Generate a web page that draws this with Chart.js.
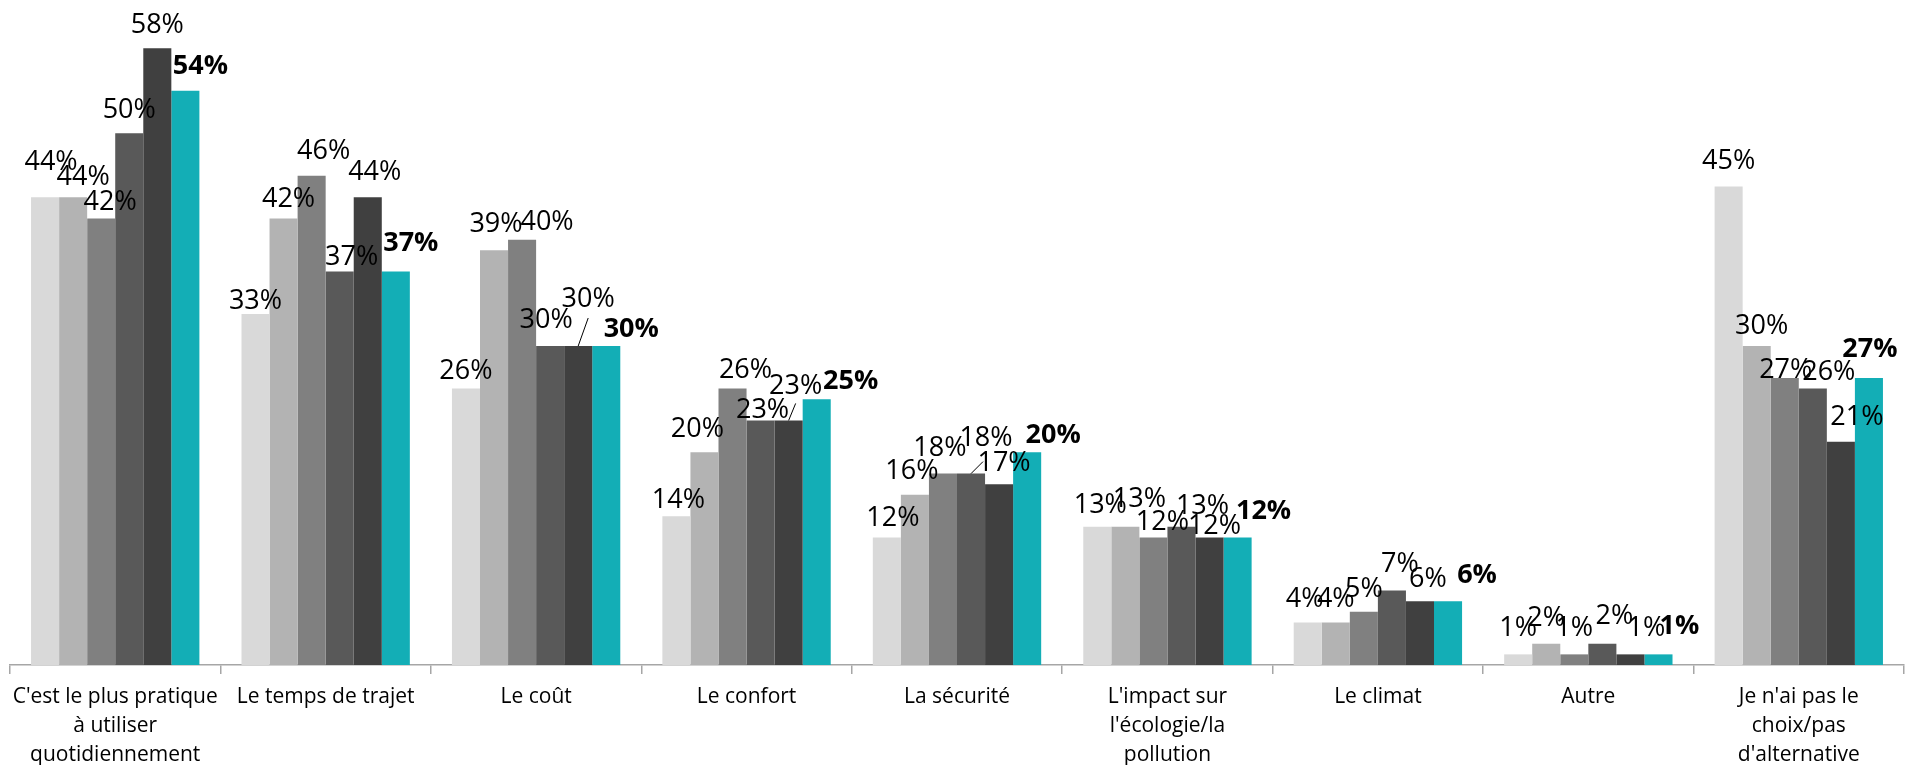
<!DOCTYPE html>
<html>
<head>
<meta charset="utf-8">
<script src="https://cdn.jsdelivr.net/npm/chart.js@4"></script>
<style>
  html, body { margin: 0; padding: 0; background: #fff; }
  #wrap { width: 1914px; height: 765px; position: relative; }
</style>
</head>
<body>
<div id="wrap"><canvas id="chart"></canvas></div>
<script>
const categories = [
  ["C'est le plus pratique", "à utiliser", "quotidiennement"],
  ["Le temps de trajet"],
  ["Le coût"],
  ["Le confort"],
  ["La sécurité"],
  ["L'impact sur", "l'écologie/la", "pollution"],
  ["Le climat"],
  ["Autre"],
  ["Je n'ai pas le", "choix/pas", "d'alternative"]
];

// one array per wave, oldest first; the last one is the highlighted wave
const serie1 = [44, 33, 26, 14, 12, 13, 4, 1, 45];
const serie2 = [44, 42, 39, 20, 16, 13, 4, 2, 30];
const serie3 = [42, 46, 40, 26, 18, 12, 5, 1, 27];
const serie4 = [50, 37, 30, 23, 18, 13, 7, 2, 26];
const serie5 = [58, 44, 30, 23, 17, 12, 6, 1, 21];
const serie6 = [54, 37, 30, 25, 20, 12, 6, 1, 27];

const colors = ['#d9d9d9', '#b3b3b3', '#808080', '#595959', '#404040', '#13aeb6'];
const seriesNames = ['Vague 1', 'Vague 2', 'Vague 3', 'Vague 4', 'Vague 5', 'Vague 6'];
const allSeries = [serie1, serie2, serie3, serie4, serie5, serie6];

// hand-moved labels like in the original ("category,series": [dx, dy, leader end dx, leader end dy])
const labelNudges = {
  '0,0': [6, -12], '0,1': [10, 3], '0,2': [9, 7], '0,5': [15, -2],
  '1,0': [0, 10], '1,1': [5, 4], '1,2': [12, -2], '1,3': [12, 8], '1,4': [7, -2], '1,5': [15, -6],
  '2,0': [0, 5], '2,1': [2, -3], '2,2': [25, 5], '2,3': [-4, -3], '2,4': [10, -24, 0, 11], '2,5': [25, 6],
  '3,0': [2, 7], '3,1': [-7, 0], '3,2': [13, 4], '3,3': [2, 13], '3,4': [7, -11, 0, 9], '3,5': [34, 5],
  '4,0': [6, 4], '4,1': [-3, -1], '4,2': [-3, -3], '4,3': [15, -13, -3, 16], '4,4': [5, 2], '4,5': [26, 6],
  '5,0': [3, 1], '5,1': [14, -5], '5,2': [9, 8], '5,3': [21, 2], '5,4': [5, 12], '5,5': [26, -3],
  '6,0': [-3, 0], '6,3': [8, -4], '6,4': [8, 1], '6,5': [29, -3],
  '7,0': [0, -3], '7,1': [0, -3], '7,2': [0, -3], '7,3': [12, -5], '7,4': [16, -3], '7,5': [21, -5],
  '8,0': [0, -3], '8,1': [5, 3], '8,2': [1, 15], '8,3': [16, 6], '8,4': [16, -2], '8,5': [1, -6]
};

// value labels above each bar, last series in bold
const barLabels = {
  id: 'barLabels',
  afterDatasetsDraw(chart, args, opts) {
    const ctx = chart.ctx;
    const nudges = opts.nudges || {};
    ctx.save();
    ctx.fillStyle = '#000';
    ctx.strokeStyle = '#000';
    ctx.lineWidth = 1;
    ctx.textAlign = 'center';
    ctx.textBaseline = 'alphabetic';
    chart.data.datasets.forEach((ds, di) => {
      const meta = chart.getDatasetMeta(di);
      const last = di === chart.data.datasets.length - 1;
      ctx.font = (last ? 'bold ' : '') + '27px "Open Sans"';
      meta.data.forEach((bar, i) => {
        const n = nudges[i + ',' + di] || [0, 0];
        const x = bar.x + n[0];
        const y = bar.y - 15 + n[1];
        ctx.fillText(ds.data[i] + '%', x, y);
        if (n.length > 2) {
          ctx.beginPath();
          ctx.moveTo(bar.x, bar.y);
          ctx.lineTo(x + n[2], y + n[3]);
          ctx.stroke();
        }
      });
    });
    ctx.restore();
  }
};

new Chart(document.getElementById('chart'), {
  type: 'bar',
  data: {
    labels: categories,
    datasets: allSeries.map((d, i) => ({
      label: seriesNames[i],
      data: d,
      backgroundColor: colors[i],
      borderWidth: 0,
      categoryPercentage: 0.8,
      barPercentage: 1
    }))
  },
  options: {
    responsive: true,
    maintainAspectRatio: false,
    animation: false,
    layout: { padding: { top: 27, left: 10, right: 10, bottom: 0 } },
    plugins: {
      legend: { display: false },
      tooltip: { enabled: false },
      barLabels: { nudges: labelNudges }
    },
    scales: {
      x: {
        grid: {
          display: true,
          drawOnChartArea: false,
          drawTicks: true,
          tickLength: 9,
          color: '#a6a6a6',
          lineWidth: 1.5,
          offset: true
        },
        border: { display: true, color: '#a6a6a6', width: 1.5 },
        ticks: {
          color: '#000',
          padding: 9,
          maxRotation: 0,
          autoSkip: false,
          font: { family: '"Open Sans"', size: 21, lineHeight: '29px' }
        },
        afterFit(scale) { scale.height = 100; }
      },
      y: {
        display: false,
        min: 0,
        max: 60
      }
    }
  },
  plugins: [barLabels]
});
</script>
</body>
</html>
